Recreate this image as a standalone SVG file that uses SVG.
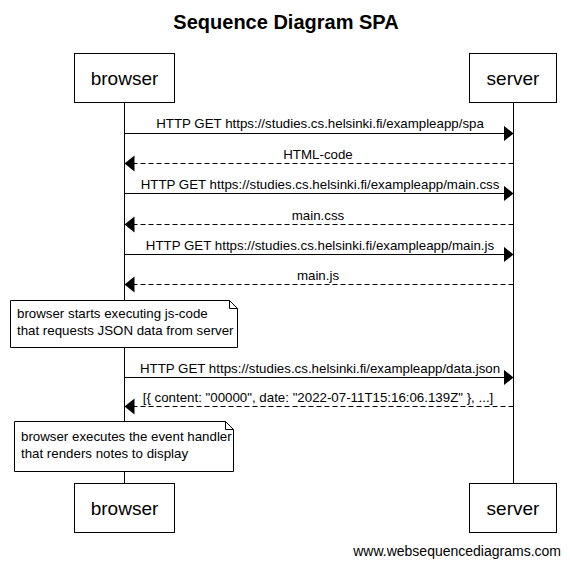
<svg xmlns="http://www.w3.org/2000/svg" width="570" height="566" viewBox="0 0 570 566">
<style>
text{font-family:"Liberation Sans",Arial,sans-serif;fill:#000}
.title{font-size:20px;font-weight:bold;text-anchor:middle}
.actor{font-size:19px;text-anchor:middle}
.lbl{font-size:13.3px;text-anchor:middle}
.note{font-size:13.3px}
.box{fill:#fff;stroke:#000;stroke-width:1}
.life{stroke:#000;stroke-width:1}
.msg{stroke:#000;stroke-width:1;fill:none;marker-end:url(#ah)}
.ret{stroke-dasharray:5,3}
.footer{font-size:14px;text-anchor:end}
</style>
<defs>
<marker id="ah" markerUnits="userSpaceOnUse" markerWidth="11" markerHeight="17" refX="10" refY="8" orient="auto">
<path d="M0,0 L10,8 L0,16 z" fill="#000"/>
</marker>
</defs>
<rect width="570" height="566" fill="#fff"/>
<text class="title" x="286" y="29">Sequence Diagram SPA</text>
<g id="lifelines">
<line class="life" x1="124.5" y1="102" x2="124.5" y2="483"/>
<line class="life" x1="513.5" y1="102" x2="513.5" y2="483"/>
</g>
<g id="browser-top"><rect class="box" x="74.5" y="53.5" width="100" height="49"/><text class="actor" x="124.5" y="85">browser</text></g>
<g id="server-top"><rect class="box" x="469.5" y="53.5" width="87" height="49"/><text class="actor" x="513" y="85">server</text></g>
<g id="browser-bottom"><rect class="box" x="74.5" y="483.5" width="100" height="49"/><text class="actor" x="124.5" y="515">browser</text></g>
<g id="server-bottom"><rect class="box" x="469.5" y="483.5" width="87" height="49"/><text class="actor" x="513" y="515">server</text></g>
<g id="connectors">
<line class="msg" x1="124.5" y1="133.5" x2="513.5" y2="133.5"/>
<text class="lbl" x="320" y="128">HTTP GET https://studies.cs.helsinki.fi/exampleapp/spa</text>
<line class="msg ret" x1="513.5" y1="163.5" x2="124.5" y2="163.5"/>
<text class="lbl" x="318" y="159">HTML-code</text>
<line class="msg" x1="124.5" y1="193.5" x2="513.5" y2="193.5"/>
<text class="lbl" x="320" y="189">HTTP GET https://studies.cs.helsinki.fi/exampleapp/main.css</text>
<line class="msg ret" x1="513.5" y1="224.5" x2="124.5" y2="224.5"/>
<text class="lbl" x="318" y="220">main.css</text>
<line class="msg" x1="124.5" y1="254.5" x2="513.5" y2="254.5"/>
<text class="lbl" x="320" y="250">HTTP GET https://studies.cs.helsinki.fi/exampleapp/main.js</text>
<line class="msg ret" x1="513.5" y1="284.5" x2="124.5" y2="284.5"/>
<text class="lbl" x="318" y="280">main.js</text>
<line class="msg" x1="124.5" y1="377.5" x2="513.5" y2="377.5"/>
<text class="lbl" x="320" y="373">HTTP GET https://studies.cs.helsinki.fi/exampleapp/data.json</text>
<line class="msg ret" x1="513.5" y1="406.5" x2="124.5" y2="406.5"/>
<text class="lbl" x="318" y="402">[{ content: "00000", date: "2022-07-11T15:16:06.139Z" }, ...]</text>
</g>
<g id="note1">
<path class="box" d="M10.5,300.5 H229.5 L237.5,308.5 V347.5 H10.5 Z"/>
<path d="M229.5,300.5 V308.5 H237.5" fill="none" stroke="#000"/>
<text class="note" x="17" y="318">browser starts executing js-code</text>
<text class="note" x="17" y="335">that requests JSON data from server</text>
</g>
<g id="note2">
<path class="box" d="M14.5,421.5 H225.5 L233.5,429.5 V471.5 H14.5 Z"/>
<path d="M225.5,421.5 V429.5 H233.5" fill="none" stroke="#000"/>
<text class="note" x="21" y="441">browser executes the event handler</text>
<text class="note" x="21" y="458">that renders notes to display</text>
</g>
<text class="footer" x="561" y="556">www.websequencediagrams.com</text>
</svg>
